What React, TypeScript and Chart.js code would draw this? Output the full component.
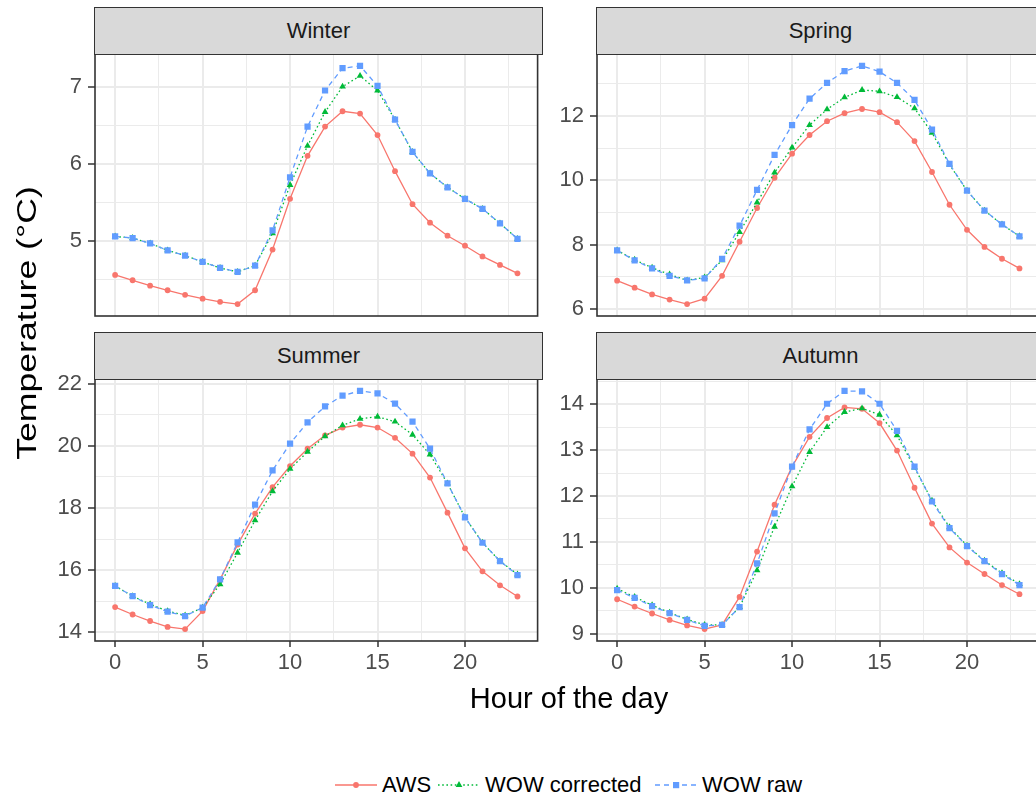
import React, { useEffect, useRef } from "react";
import { Chart, registerables } from "chart.js";

Chart.register(...registerables);

// ---------------- data ----------------
const HOURS = [0, 1, 2, 3, 4, 5, 6, 7, 8, 9, 10, 11, 12, 13, 14, 15, 16, 17, 18, 19, 20, 21, 22, 23];
const SERIES_NAMES = ["AWS", "WOW corrected", "WOW raw"];
const SEASONS = ["Winter", "Spring", "Summer", "Autumn"];

const WINTER_AWS = [4.56, 4.49, 4.42, 4.36, 4.3, 4.25, 4.21, 4.18, 4.36, 4.89, 5.55, 6.11, 6.49, 6.69, 6.66, 6.38, 5.91, 5.48, 5.24, 5.07, 4.94, 4.8, 4.69, 4.58];
const WINTER_CORR = [5.06, 5.04, 4.97, 4.88, 4.81, 4.73, 4.65, 4.6, 4.68, 5.1, 5.73, 6.24, 6.68, 7.01, 7.15, 6.96, 6.58, 6.16, 5.88, 5.7, 5.55, 5.42, 5.23, 5.03];
const WINTER_RAW = [5.06, 5.04, 4.97, 4.88, 4.81, 4.73, 4.65, 4.6, 4.68, 5.14, 5.83, 6.49, 6.96, 7.25, 7.28, 7.02, 6.58, 6.16, 5.88, 5.7, 5.55, 5.42, 5.23, 5.03];

const SPRING_AWS = [6.88, 6.66, 6.45, 6.29, 6.15, 6.32, 7.03, 8.09, 9.14, 10.08, 10.83, 11.41, 11.84, 12.09, 12.22, 12.12, 11.81, 11.22, 10.26, 9.24, 8.46, 7.93, 7.56, 7.26];
const SPRING_CORR = [7.82, 7.53, 7.28, 7.07, 6.89, 6.98, 7.51, 8.39, 9.31, 10.24, 11.02, 11.72, 12.21, 12.58, 12.81, 12.77, 12.59, 12.24, 11.48, 10.49, 9.68, 9.06, 8.63, 8.26];
const SPRING_RAW = [7.82, 7.51, 7.26, 7.03, 6.89, 6.95, 7.56, 8.59, 9.7, 10.79, 11.72, 12.54, 13.03, 13.4, 13.56, 13.38, 13.03, 12.5, 11.58, 10.51, 9.68, 9.06, 8.63, 8.26];

const SUMMER_AWS = [14.81, 14.57, 14.36, 14.17, 14.1, 14.68, 15.7, 16.82, 17.82, 18.67, 19.35, 19.91, 20.34, 20.59, 20.68, 20.59, 20.26, 19.75, 18.98, 17.85, 16.7, 15.96, 15.51, 15.15];
const SUMMER_CORR = [15.49, 15.16, 14.9, 14.68, 14.54, 14.79, 15.54, 16.56, 17.6, 18.54, 19.26, 19.81, 20.31, 20.66, 20.87, 20.94, 20.78, 20.36, 19.72, 18.79, 17.7, 16.88, 16.29, 15.86];
const SUMMER_RAW = [15.49, 15.16, 14.87, 14.66, 14.52, 14.79, 15.7, 16.89, 18.11, 19.21, 20.07, 20.76, 21.27, 21.62, 21.77, 21.69, 21.36, 20.78, 19.91, 18.79, 17.7, 16.88, 16.29, 15.84];

const AUTUMN_AWS = [9.75, 9.59, 9.44, 9.3, 9.18, 9.1, 9.19, 9.8, 10.79, 11.81, 12.64, 13.29, 13.7, 13.93, 13.9, 13.59, 12.99, 12.18, 11.4, 10.88, 10.55, 10.3, 10.06, 9.86];
const AUTUMN_CORR = [9.98, 9.8, 9.62, 9.46, 9.31, 9.19, 9.19, 9.58, 10.38, 11.33, 12.21, 12.96, 13.5, 13.83, 13.91, 13.77, 13.32, 12.62, 11.9, 11.32, 10.92, 10.59, 10.32, 10.08];
const AUTUMN_RAW = [9.95, 9.78, 9.6, 9.45, 9.3, 9.17, 9.19, 9.58, 10.53, 11.62, 12.64, 13.45, 14.01, 14.29, 14.28, 14.01, 13.42, 12.64, 11.88, 11.3, 10.91, 10.58, 10.3, 10.06];

const X_MAJOR = [0, 5, 10, 15, 20];
const X_MINOR = [2.5, 7.5, 12.5, 17.5, 22.5];

const WINTER_Y_MAJOR = [5, 6, 7];
const WINTER_Y_MINOR = [4.5, 5.5, 6.5];
const SPRING_Y_MAJOR = [6, 8, 10, 12];
const SPRING_Y_MINOR = [7, 9, 11, 13];
const SUMMER_Y_MAJOR = [14, 16, 18, 20, 22];
const SUMMER_Y_MINOR = [15, 17, 19, 21];
const AUTUMN_Y_MAJOR = [9, 10, 11, 12, 13, 14];
const AUTUMN_Y_MINOR = [9.5, 10.5, 11.5, 12.5, 13.5, 14.5];

const X_TITLE = "Hour of the day";
const Y_TITLE = "Temperature (°C)";

// ---------------- style ----------------
const COLORS = ["#F8766D", "#00BA38", "#619CFF"];
const FONT = "'Liberation Sans', Arial, Helvetica, sans-serif";
const COL_LEFT = [95, 597];
const ROW_STRIP = [7, 332];
const ROW_TOP = [54, 379];
const PLOT_W = 447;
const PLOT_H = 262;
const Y_AXIS_W = 60;
const PAD_TOP = 30;

type PanelProps = {
  title: string;
  aws: number[];
  corr: number[];
  raw: number[];
  yMajor: number[];
  yMinor: number[];
  col: number;
  row: number;
};

const borderPlugin = {
  id: "panelBorder",
  afterDatasetsDraw(chart: any) {
    const a = chart.chartArea;
    const ctx = chart.ctx;
    ctx.save();
    ctx.strokeStyle = "#333333";
    ctx.lineWidth = 1.6;
    ctx.strokeRect(a.left, a.top, a.right - a.left, a.bottom - a.top);
    ctx.restore();
  },
};

function Panel({ title, aws, corr, raw, yMajor, yMinor, col, row }: PanelProps) {
  const ref = useRef<HTMLCanvasElement | null>(null);
  const bottom = row === 1;
  const xAxisH = bottom ? 42 : 30;
  const cw = Y_AXIS_W + PLOT_W;
  const ch = PAD_TOP + PLOT_H + xAxisH;

  useEffect(() => {
    if (!ref.current) return;
    const all = aws.concat(corr, raw);
    const lo = Math.min(...all);
    const hi = Math.max(...all);
    const span = hi - lo;
    const xLo = HOURS[0] - 0.05 * (HOURS[HOURS.length - 1] - HOURS[0]);
    const xHi = HOURS[HOURS.length - 1] + 0.05 * (HOURS[HOURS.length - 1] - HOURS[0]);
    const xTicks = X_MAJOR.concat(X_MINOR).sort((a, b) => a - b);
    const yTicks = yMajor.concat(yMinor).sort((a, b) => a - b);
    const isXMajor = (v: number) => X_MAJOR.indexOf(v) >= 0;
    const isYMajor = (v: number) => yMajor.indexOf(v) >= 0;
    const series = [aws, corr, raw];
    const dashes = [[], [1.6, 2.6], [5, 4]];
    const shapes = ["circle", "triangle", "rect"];
    const radii = [2.9, 3.9, 4.4];
    const chart = new Chart(ref.current, {
      type: "line",
      data: {
        datasets: series.map((s, i) => ({
          label: SERIES_NAMES[i],
          data: HOURS.map((h, j) => ({ x: h, y: s[j] })),
          borderColor: COLORS[i],
          backgroundColor: COLORS[i],
          borderWidth: 1.3,
          borderDash: dashes[i],
          pointStyle: shapes[i] as any,
          pointRadius: radii[i],
          pointBackgroundColor: COLORS[i],
          pointBorderWidth: 0,
          tension: 0,
          order: 2 - i,
        })),
      },
      options: {
        animation: false,
        responsive: false,
        devicePixelRatio: 1,
        events: [],
        layout: { padding: { top: PAD_TOP, left: 0, right: 0, bottom: 0 } },
        plugins: { legend: { display: false }, tooltip: { enabled: false } },
        scales: {
          x: {
            type: "linear",
            min: xLo,
            max: xHi,
            bounds: "data",
            afterBuildTicks: (s: any) => {
              s.ticks = xTicks.map((v) => ({ value: v }));
            },
            afterFit: (s: any) => {
              s.height = xAxisH;
            },
            border: { display: false },
            grid: {
              color: "#ebebeb",
              lineWidth: (c: any) => (isXMajor(c.tick.value) ? 2 : 1),
              drawTicks: bottom,
              tickLength: 6,
              tickWidth: 1.5,
              tickColor: (c: any) => (isXMajor(c.tick.value) ? "#333333" : "rgba(0,0,0,0)"),
            },
            ticks: {
              display: bottom,
              autoSkip: false,
              maxRotation: 0,
              padding: 3,
              color: "#4d4d4d",
              font: { family: FONT, size: 22 },
              callback: (v: any) => (isXMajor(Number(v)) ? String(v) : ""),
            },
          },
          y: {
            type: "linear",
            min: lo - 0.05 * span,
            max: hi + 0.05 * span,
            bounds: "data",
            afterBuildTicks: (s: any) => {
              s.ticks = yTicks.map((v) => ({ value: v }));
            },
            afterFit: (s: any) => {
              s.width = Y_AXIS_W;
            },
            border: { display: false },
            grid: {
              color: "#ebebeb",
              lineWidth: (c: any) => (isYMajor(c.tick.value) ? 2 : 1),
              drawTicks: true,
              tickLength: 7,
              tickWidth: 1.5,
              tickColor: (c: any) => (isYMajor(c.tick.value) ? "#333333" : "rgba(0,0,0,0)"),
            },
            ticks: {
              autoSkip: false,
              padding: 6,
              color: "#4d4d4d",
              font: { family: FONT, size: 22 },
              callback: (v: any) => (isYMajor(Number(v)) ? String(v) : ""),
            },
          },
        },
      },
      plugins: [borderPlugin],
    } as any);
    return () => chart.destroy();
  }, []);

  const plotLeft = COL_LEFT[col];
  const plotTop = ROW_TOP[row];
  const stripTop = ROW_STRIP[row];
  return (
    <>
      <canvas
        ref={ref}
        width={cw}
        height={ch}
        style={{ position: "absolute", left: plotLeft - Y_AXIS_W, top: plotTop - PAD_TOP, width: cw, height: ch }}
      />
      <div
        style={{
          position: "absolute",
          left: plotLeft - 0.8,
          top: stripTop,
          width: PLOT_W + 1.6,
          height: plotTop - stripTop + 0.8,
          boxSizing: "border-box",
          background: "#d9d9d9",
          border: "1.6px solid #333333",
          display: "flex",
          alignItems: "center",
          justifyContent: "center",
          fontFamily: FONT,
          fontSize: 22,
          color: "#1a1a1a",
        }}
      >
        {title}
      </div>
    </>
  );
}

function LegendKey({ i }: { i: number }) {
  const c = COLORS[i];
  const dash = i === 0 ? undefined : i === 1 ? "1.6 2.6" : "5 4";
  return (
    <svg width={42} height={20} style={{ display: "block" }}>
      <line x1={0} y1={10} x2={42} y2={10} stroke={c} strokeWidth={1.3} strokeDasharray={dash} />
      {i === 0 && <circle cx={21} cy={10} r={2.9} fill={c} />}
      {i === 1 && <polygon points="21,6 24.4,11.9 17.6,11.9" fill={c} />}
      {i === 2 && <rect x={18} y={7} width={6.2} height={6.2} fill={c} />}
    </svg>
  );
}

export default function App() {
  const panels = [
    { title: SEASONS[0], aws: WINTER_AWS, corr: WINTER_CORR, raw: WINTER_RAW, yMajor: WINTER_Y_MAJOR, yMinor: WINTER_Y_MINOR, col: 0, row: 0 },
    { title: SEASONS[1], aws: SPRING_AWS, corr: SPRING_CORR, raw: SPRING_RAW, yMajor: SPRING_Y_MAJOR, yMinor: SPRING_Y_MINOR, col: 1, row: 0 },
    { title: SEASONS[2], aws: SUMMER_AWS, corr: SUMMER_CORR, raw: SUMMER_RAW, yMajor: SUMMER_Y_MAJOR, yMinor: SUMMER_Y_MINOR, col: 0, row: 1 },
    { title: SEASONS[3], aws: AUTUMN_AWS, corr: AUTUMN_CORR, raw: AUTUMN_RAW, yMajor: AUTUMN_Y_MAJOR, yMinor: AUTUMN_Y_MINOR, col: 1, row: 1 },
  ];
  const legendLefts = [336, 439, 656];
  return (
    <div
      style={{
        position: "absolute",
        left: 0,
        top: 0,
        width: 1036,
        height: 799,
        overflow: "hidden",
        background: "#ffffff",
        fontFamily: FONT,
      }}
    >
      {panels.map((p) => (
        <Panel key={p.title} {...p} />
      ))}
      <div
        style={{
          position: "absolute",
          left: 27 - 200,
          top: 323 - 18,
          width: 400,
          height: 36,
          lineHeight: "36px",
          textAlign: "center",
          transform: "rotate(-90deg) scaleX(1.32)",
          fontSize: 27,
          color: "#000000",
          whiteSpace: "nowrap",
        }}
      >
        {Y_TITLE}
      </div>
      <div
        style={{
          position: "absolute",
          left: 569 - 200,
          top: 698 - 18,
          width: 400,
          height: 36,
          lineHeight: "36px",
          textAlign: "center",
          fontSize: 29,
          color: "#000000",
          whiteSpace: "nowrap",
        }}
      >
        {X_TITLE}
      </div>
      {SERIES_NAMES.map((name, i) => (
        <div
          key={name}
          style={{
            position: "absolute",
            left: legendLefts[i] - 1,
            top: 785 - 14,
            height: 28,
            display: "flex",
            alignItems: "center",
            fontSize: 22,
            color: "#000000",
            whiteSpace: "nowrap",
          }}
        >
          <LegendKey i={i} />
          <span style={{ marginLeft: 5 }}>{name}</span>
        </div>
      ))}
    </div>
  );
}
